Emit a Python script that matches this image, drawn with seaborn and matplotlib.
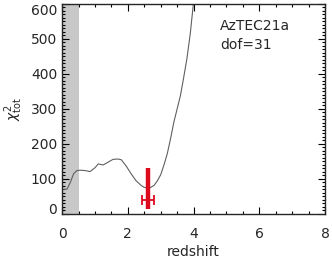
import numpy as np
import pandas as pd
import matplotlib
matplotlib.use('Agg')
import matplotlib.pyplot as plt
import seaborn as sns
from matplotlib.ticker import MultipleLocator

# chi^2 vs redshift curve
redshift = [0.0, 0.15, 0.25, 0.35, 0.45, 0.55, 0.7, 0.85, 1.0, 1.1, 1.25, 1.4, 1.55, 1.7,
            1.8, 1.95, 2.1, 2.25, 2.4, 2.5, 2.6, 2.7, 2.8, 2.9, 3.0, 3.1, 3.2, 3.3, 3.4,
            3.5, 3.6, 3.7, 3.8, 3.9, 4.0]
chi2_tot = [70, 71, 90, 115, 124, 125, 124, 121, 132, 143, 140, 148, 156, 157,
            155, 137, 115, 95, 82, 76, 74, 76, 82, 95, 112, 140, 172, 215, 262,
            300, 338, 390, 445, 515, 605]

# best-fit redshift marker
z_best = 2.61
z_err_lo, z_err_hi = 0.19, 0.19
bar_lo, bar_hi = 13, 131
err_y = 40

excluded_z = (0.0, 0.5)
source_name = 'AzTEC21a'
dof = 31

sns.set_style('ticks')
plt.rcParams['font.family'] = ['DejaVu Sans']
plt.rcParams['xtick.direction'] = 'in'
plt.rcParams['ytick.direction'] = 'in'

fig = plt.figure(figsize=(3.32, 2.60), dpi=100)
ax = fig.add_axes([0.187, 0.177, 0.792, 0.808])

ax.axvspan(*excluded_z, color='#c8c8c8', lw=0, zorder=0)

df = pd.DataFrame({'z': redshift, 'chi2': chi2_tot})
sns.lineplot(data=df, x='z', y='chi2', ax=ax, color='#606060', lw=0.8)

red = '#dd0a1e'
ax.plot([z_best, z_best], [bar_lo, bar_hi], color=red, lw=3.2, solid_capstyle='butt')
ax.errorbar(z_best, err_y, xerr=[[z_err_lo], [z_err_hi]], color=red, lw=1.3,
            capsize=3.5, capthick=1.3)

ax.set_xlim(0, 8)
ax.set_ylim(0, 600)
ax.set_xticks([0, 2, 4, 6, 8])
ax.set_yticks([0, 100, 200, 300, 400, 500, 600])
ax.xaxis.set_minor_locator(MultipleLocator(0.5))
ax.yaxis.set_minor_locator(MultipleLocator(10))
ax.tick_params(which='both', top=True, right=True, labelsize=10, width=0.8, color='black')
ax.tick_params(which='major', length=5)
ax.tick_params(which='minor', length=2.5)
ax.tick_params(axis='x', which='major', pad=9.5)
for s in ax.spines.values():
    s.set_linewidth(1.0)

# IDL-style: keep end labels inside the frame
ylabels = ax.get_yticklabels()
ylabels[-1].set_verticalalignment('top')
ylabels[0].set_verticalalignment('baseline')

ax.set_xlabel('redshift', fontsize=10, labelpad=3)
ax.set_ylabel(r'$\chi^2_{\rm tot}$', fontsize=10, labelpad=4)

ax.text(0.601, 0.876, source_name, transform=ax.transAxes, fontsize=10, va='baseline')
ax.text(0.601, 0.786, f'dof={dof}', transform=ax.transAxes, fontsize=10, va='baseline')

fig.savefig('out.png', dpi=100)
